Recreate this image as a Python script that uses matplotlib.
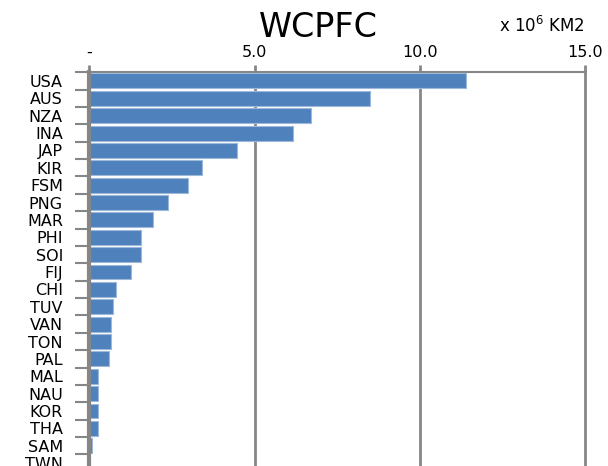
import numpy as np
import matplotlib.pyplot as plt

# 各國面積 (x 10^6 km2)
countries = ["USA", "AUS", "NZA", "INA", "JAP", "KIR", "FSM", "PNG", "MAR", "PHI",
             "SOI", "FIJ", "CHI", "TUV", "VAN", "TON", "PAL", "MAL", "NAU", "KOR",
             "THA", "SAM", "TWN"]
area = [11.40, 8.50, 6.70, 6.15, 4.47, 3.42, 2.99, 2.37, 1.93, 1.57,
        1.57, 1.26, 0.82, 0.70, 0.64, 0.64, 0.58, 0.27, 0.27, 0.27,
        0.27, 0.08, 0.0]
xticks = [0, 5, 10, 15]
xticklabels = ["-", "5.0", "10.0", "15.0"]

gray = "#868686"

fig = plt.figure(figsize=(6.08, 4.66), dpi=100)
ax = fig.add_axes([0.147, -0.0125, 0.815, 0.8575])

y = np.arange(len(countries))
ax.barh(y, area, height=0.86, color="#4F81BD", edgecolor="#9DB8DA", linewidth=0.8, zorder=3)
ax.set_ylim(len(countries) - 0.5, -0.5)
ax.set_xlim(0, 15)

# X軸在上方
ax.xaxis.tick_top()
ax.set_xticks(xticks)
ax.set_xticklabels(xticklabels, fontsize=11.5)
ax.tick_params(axis="x", length=5, width=2, color=gray, pad=4)
ax.grid(axis="x", color=gray, linewidth=2, zorder=1)
for gl in ax.get_xgridlines():
    gl.set_clip_on(False)

# Y軸標籤與分隔刻度
ax.set_yticks(y)
ax.set_yticklabels(countries, fontsize=11.5)
ax.tick_params(axis="y", which="major", length=0, pad=19)
ax.set_yticks(np.arange(len(countries)) - 0.5, minor=True)
ax.tick_params(axis="y", which="minor", length=10, width=1.5, color=gray)

for s in ["right", "bottom"]:
    ax.spines[s].set_visible(False)
ax.spines["top"].set_color(gray)
ax.spines["top"].set_linewidth(1.5)
ax.spines["left"].set_color(gray)
ax.spines["left"].set_linewidth(3)
ax.spines["left"].set_zorder(4)

fig.text(0.523, 0.921, "WCPFC", fontsize=24, ha="center", va="baseline")
fig.text(0.962, 0.945, "x 10$^6$ KM2", fontsize=12, ha="right", va="center")

fig.savefig("out.png", dpi=100)
